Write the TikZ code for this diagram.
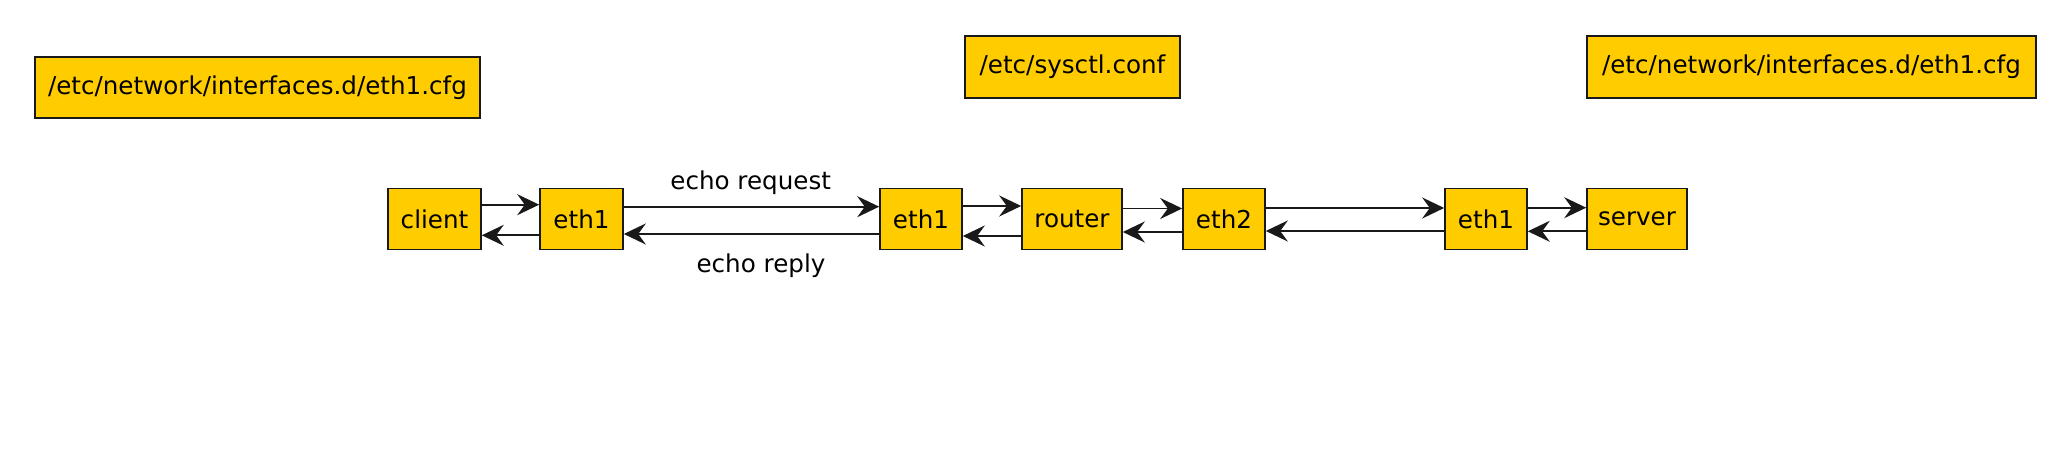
\documentclass[tikz,border=0pt]{standalone}
\usepackage{fontspec}
\setmainfont{DejaVu Sans}
\usetikzlibrary{arrows.meta}
\definecolor{boxfill}{RGB}{255,204,0}
\definecolor{boxline}{RGB}{25,25,25}
\begin{document}
\begin{tikzpicture}[x=0.5pt,y=-0.5pt,
  box/.style={draw=boxline,line width=0.8pt,fill=boxfill,minimum height=30.5pt,inner sep=0pt,font=\fontsize{12.3}{14}\selectfont},
  conn/.style={line width=0.95pt,draw=boxline,-{Stealth[length=11pt,width=10.5pt,inset=3.8pt]}},
  lbl/.style={font=\fontsize{12.3}{14}\selectfont,anchor=base,inner sep=0pt}]
\useasboundingbox (0,0) rectangle (2053,459);
\node[box,minimum width=222.5pt] (cfgL) at (257.5,87.5) {/etc/network/interfaces.d/eth1.cfg};
\node[box,minimum width=107.5pt,minimum height=31pt] (sysctl) at (1072.5,67) {/etc/sysctl.conf};
\node[box,minimum width=224.5pt,minimum height=31pt] (cfgR) at (1811.5,67) {/etc/network/interfaces.d/eth1.cfg};
\node[box,minimum width=46.5pt] (client) at (434.5,219) {client};
\node[box,minimum width=41.5pt] (eth1a) at (581.5,219) {eth1};
\node[box,minimum width=41pt] (eth1b) at (921,219) {eth1};
\node[box,minimum width=50pt] (router) at (1072,219) {router};
\node[box,minimum width=41pt] (eth2) at (1224,219) {eth2};
\node[box,minimum width=41pt] (eth1c) at (1486,219) {eth1};
\node[box,minimum width=50pt] (server) at (1637,219) {server};
% forward
\draw[conn] (client.east |- 0,204.7) -- (eth1a.west |- 0,204.7);
\draw[conn] (eth1a.east |- 0,206.7) -- (eth1b.west |- 0,206.7);
\draw[conn] (eth1b.east |- 0,206) -- (router.west |- 0,206);
\draw[conn] (router.east |- 0,208.5) -- (eth2.west |- 0,208.5);
\draw[conn] (eth2.east |- 0,208) -- (eth1c.west |- 0,208);
\draw[conn] (eth1c.east |- 0,207.7) -- (server.west |- 0,207.7);
% backward
\draw[conn] (eth1a.west |- 0,235.3) -- (client.east |- 0,235.3);
\draw[conn] (eth1b.west |- 0,234) -- (eth1a.east |- 0,234);
\draw[conn] (router.west |- 0,236) -- (eth1b.east |- 0,236);
\draw[conn] (eth2.west |- 0,232) -- (router.east |- 0,232);
\draw[conn] (eth1c.west |- 0,231) -- (eth2.east |- 0,231);
\draw[conn] (server.west |- 0,231.3) -- (eth1c.east |- 0,231.3);
\node[lbl] (req) at (750.7,189.3) {echo request};
\node[lbl] (rep) at (761,273) {echo reply};
\end{tikzpicture}
\end{document}
